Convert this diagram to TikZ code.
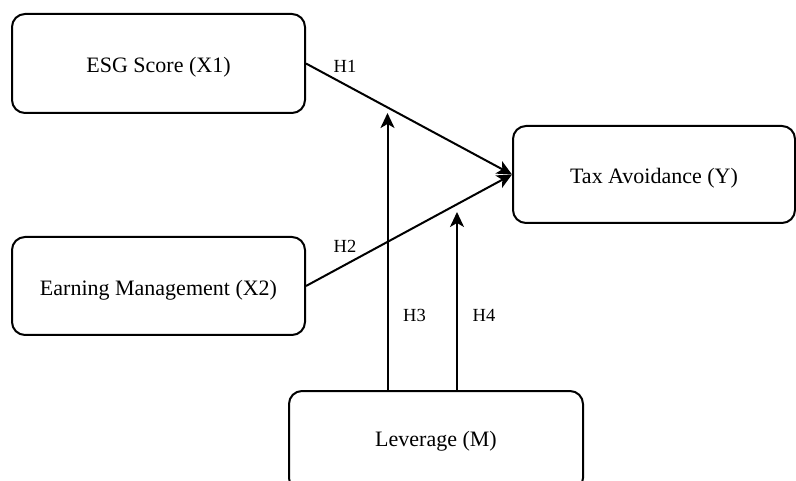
\documentclass[tikz,border=0pt]{standalone}
\usepackage{fontspec}
\setmainfont{Liberation Serif}
\usetikzlibrary{arrows.meta}
\begin{document}
\begin{tikzpicture}[x=1pt,y=-1pt,
  boxtext/.style={font=\fontsize{22}{24}\selectfont, text height=18.4pt, text depth=0pt},
  box/.style={draw, line width=2pt, rounded corners=13pt, inner sep=0pt, boxtext},
  arr/.style={line width=2pt, -{Stealth[length=15pt,width=14pt,inset=4pt]}},
  hlab/.style={font=\fontsize{18.5}{21}\selectfont, inner sep=0pt}]
\useasboundingbox (0,0) rectangle (796,481);
\node[box, minimum width=293pt, minimum height=99pt] (esg) at (158.5,63.5) {ESG Score (X1)};
\node[box, minimum width=293pt, minimum height=98pt] (em) at (158.5,286) {Earning Management (X2)};
\node[box, minimum width=282pt, minimum height=97pt] (tax) at (654,174.5) {Tax Avoidance (Y)};
\node[box, minimum width=294pt, minimum height=100pt, anchor=north] (lev) at (436,390) {};
\node[boxtext, inner sep=0pt] (levtxt) at (436,437) {Leverage (M)};
\coordinate (h3top) at (387.5,113);
\coordinate (h4top) at (457,212);
\draw[arr] (esg.east) -- (tax.west);
\draw[arr] (em.east) -- (tax.west);
\draw[arr] (h3top |- lev.north) -- (h3top);
\draw[arr] (h4top |- lev.north) -- (h4top);
\node[hlab] (h1) at (345,66) {H1};
\node[hlab] (h2) at (345,246) {H2};
\node[hlab] (h3) at (414.5,315) {H3};
\node[hlab] (h4) at (484,315) {H4};
\end{tikzpicture}
\end{document}
